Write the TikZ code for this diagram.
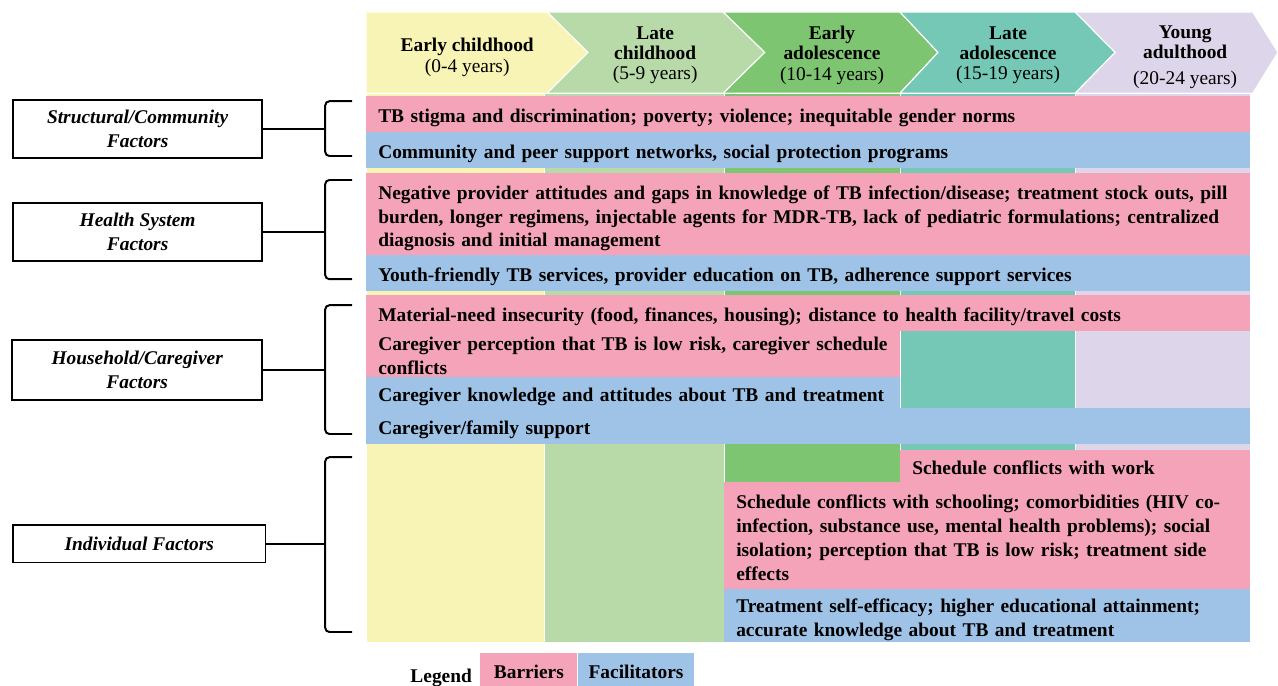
\documentclass[tikz,border=0pt]{standalone}
\usepackage{fontspec}
\setmainfont{Liberation Serif}
\usepackage{xcolor}
\usepackage{tikz}
\usetikzlibrary{positioning}

\definecolor{earlychild}{HTML}{F8F4B6}
\definecolor{latechild}{HTML}{B8DAA8}
\definecolor{earlyado}{HTML}{7DC570}
\definecolor{lateado}{HTML}{76C8B6}
\definecolor{youngadult}{HTML}{DDD6EA}
\definecolor{barpink}{HTML}{F5A3B9}
\definecolor{facblue}{HTML}{9EC3E6}

\begin{document}
\begin{tikzpicture}[font=\fontsize{13.8}{17}\selectfont]
\tikzstyle{factor}      = [rectangle, draw=black, line width=1pt, fill=white, text centered, align=center, font=\fontsize{13.8}{17}\selectfont\bfseries\itshape]
\tikzstyle{stage}       = [draw=white, line width=0.8pt]
\tikzstyle{stagetext}   = [align=center, font=\fontsize{13.8}{14.5}\selectfont]
\tikzstyle{column}      = [draw=white, line width=0.6pt]
\tikzstyle{barrier}     = [rectangle, anchor=north west, fill=barpink, align=left, inner xsep=0.3cm, inner ysep=0pt, text height=0.45cm, text depth=0.05cm, font=\fontsize{13.8}{17}\selectfont\bfseries]
\tikzstyle{facilitator} = [rectangle, anchor=north west, fill=facblue, align=left, inner xsep=0.3cm, inner ysep=0pt, text height=0.45cm, text depth=0.05cm, font=\fontsize{13.8}{17}\selectfont\bfseries]
\tikzstyle{bracket}     = [line width=1.4pt, rounded corners=3pt]
\tikzstyle{link}        = [line width=1.4pt]
\tikzstyle{key}         = [rectangle, minimum height=0.82cm, inner sep=0pt, text height=0.65cm, text depth=0.17cm, text centered, font=\fontsize{13.8}{17}\selectfont\bfseries]
\useasboundingbox (0,0) rectangle (31.95,-17.15);
\filldraw[column, fill=earlychild] (9.15,-2.30) rectangle (13.62,-16.05);
\filldraw[column, fill=latechild]  (13.62,-2.30) rectangle (18.10,-16.05);
\filldraw[column, fill=earlyado]   (18.10,-2.30) rectangle (22.50,-16.05);
\filldraw[column, fill=lateado]    (22.50,-2.30) rectangle (26.88,-16.05);
\filldraw[column, fill=youngadult] (26.88,-2.30) rectangle (31.25,-16.05);
\filldraw[stage, fill=earlychild] (9.15,-0.30) -- (13.68,-0.30) -- (14.70,-1.31) -- (13.68,-2.33) -- (9.15,-2.33) -- cycle;
\filldraw[stage, fill=latechild]  (13.68,-0.30) -- (18.08,-0.30) -- (19.12,-1.31) -- (18.08,-2.33) -- (13.68,-2.33) -- (14.70,-1.31) -- cycle;
\filldraw[stage, fill=earlyado]   (18.08,-0.30) -- (22.50,-0.30) -- (23.45,-1.31) -- (22.50,-2.33) -- (18.08,-2.33) -- (19.12,-1.31) -- cycle;
\filldraw[stage, fill=lateado]    (22.50,-0.30) -- (26.88,-0.30) -- (27.88,-1.31) -- (26.88,-2.33) -- (22.50,-2.33) -- (23.45,-1.31) -- cycle;
\filldraw[stage, fill=youngadult] (26.88,-0.30) -- (31.32,-0.30) -- (31.95,-1.31) -- (31.32,-2.33) -- (26.88,-2.33) -- (27.88,-1.31) -- cycle;
\node[stagetext] at (11.68,-1.43) (h0){\textbf{Early childhood}\\(0-4 years)};
\node[stagetext] at (16.38,-1.38) (h1){\textbf{Late}\\\textbf{childhood}\\(5-9 years)};
\node[stagetext] at (20.80,-1.38) (h2){\textbf{Early}\\\textbf{adolescence}\\(10-14 years)};
\node[stagetext] at (25.20,-1.38) (h3){\textbf{Late}\\\textbf{adolescence}\\(15-19 years)};
\node[stagetext] at (29.63,-1.43) (h4){\textbf{Young}\\\textbf{adulthood}\\[4pt](20-24 years)};
\node[barrier, text width=21.50cm, minimum height=0.90cm] at (9.15,-2.40) (r1){TB stigma and discrimination; poverty; violence; inequitable gender norms};
\node[facilitator, text width=21.50cm, minimum height=0.90cm] at (9.15,-3.30) (r2){Community and peer support networks, social protection programs};
\node[barrier, text width=21.50cm, minimum height=2.05cm, text height=31.8pt, text depth=19.2pt] at (9.15,-4.33) (r3){\begin{tabular}{@{}l@{}}Negative provider attitudes and gaps in knowledge of TB infection/disease; treatment stock outs, pill\\burden, longer regimens, injectable agents for MDR-TB, lack of pediatric formulations; centralized\\diagnosis and initial management\end{tabular}};
\node[facilitator, text width=21.50cm, minimum height=0.90cm] at (9.15,-6.38) (r4){Youth-friendly TB services, provider education on TB, adherence support services};
\node[barrier, text width=21.50cm, minimum height=0.88cm] at (9.15,-7.38) (r5){Material-need insecurity (food, finances, housing); distance to health facility/travel costs};
\node[barrier, text width=12.75cm, minimum height=1.20cm, text height=23.3pt, text depth=10.7pt] at (9.15,-8.25) (r6){\begin{tabular}{@{}l@{}}Caregiver perception that TB is low risk, caregiver schedule\\conflicts\end{tabular}};
\node[facilitator, text width=12.75cm, minimum height=0.77cm, text height=14.8pt, text depth=2.2pt] at (9.15,-9.43) (r7){\begin{tabular}{@{}l@{}}Caregiver knowledge and attitudes about TB and treatment\end{tabular}};
\node[facilitator, text width=21.50cm, minimum height=0.90cm] at (9.15,-10.20) (r8){Caregiver/family support};
\node[barrier, text width=8.15cm, minimum height=0.80cm] at (22.50,-11.25) (r9){Schedule conflicts with work};
\node[barrier, text width=12.55cm, minimum height=2.68cm, text height=40.3pt, text depth=27.7pt] at (18.10,-12.05) (r10){\begin{tabular}{@{}l@{}}Schedule conflicts with schooling; comorbidities (HIV co-\\infection, substance use, mental health problems); social\\isolation; perception that TB is low risk; treatment side\\effects\end{tabular}};
\node[facilitator, text width=12.55cm, minimum height=1.32cm, text height=23.3pt, text depth=10.7pt] at (18.10,-14.73) (r11){\begin{tabular}{@{}l@{}}Treatment self-efficacy; higher educational attainment;\\accurate knowledge about TB and treatment\end{tabular}};
\node[factor, minimum width=6.22cm, minimum height=1.45cm] at (3.44,-3.23) (f1){Structural/Community\\Factors};
\node[factor, minimum width=6.22cm, minimum height=1.45cm] at (3.44,-5.80) (f2){Health System\\Factors};
\node[factor, minimum width=6.25cm, minimum height=1.50cm] at (3.43,-9.25) (f3){Household/Caregiver\\Factors};
\node[factor, minimum width=6.30cm, minimum height=0.93cm] at (3.48,-13.59) (f4){Individual Factors};
\coordinate (k1) at (8.13,-3.23);
\coordinate (k2) at (8.13,-5.80);
\coordinate (k3) at (8.13,-9.25);
\coordinate (k4) at (8.13,-13.59);
\draw[bracket] (8.80,-2.53) -| (8.13,-3.90) -- (8.80,-3.90);
\draw[bracket] (8.80,-4.50) -| (8.13,-6.98) -- (8.80,-6.98);
\draw[bracket] (8.80,-7.63) -| (8.13,-10.85) -- (8.80,-10.85);
\draw[bracket] (8.80,-11.43) -| (8.13,-15.80) -- (8.80,-15.80);
\draw[link] (f1.east) -- (k1);
\draw[link] (f2.east) -- (k2);
\draw[link] (f3.east) -- (k3);
\draw[link] (f4.east) -- (k4);
\node[font=\fontsize{13.8}{17}\selectfont\bfseries] at (11.03,-16.96) (legend){Legend};
\node[key, fill=barpink, minimum width=2.43cm, anchor=south west] at (12.00,-17.15) (kb){Barriers};
\node[key, fill=facblue, minimum width=2.90cm, right=0cm of kb] (kf){Facilitators};
\end{tikzpicture}
\end{document}
